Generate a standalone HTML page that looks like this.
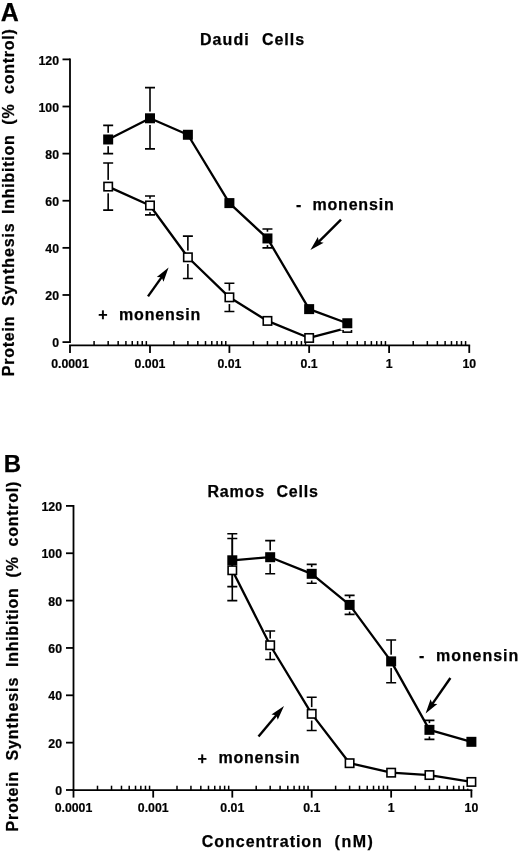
<!DOCTYPE html>
<html lang="en">
<head>
<meta charset="utf-8">
<title>Protein Synthesis Inhibition - Daudi and Ramos Cells</title>
<style>
html,body{margin:0;padding:0;background:#fff;}
body{width:520px;height:852px;overflow:hidden;}
svg{display:block;filter:blur(0.35px);}
text{font-family:"Liberation Sans",sans-serif;font-weight:bold;fill:#000;stroke:#000;stroke-width:0.25px;}
.pl{font-size:25px;}
.tt{font-size:16px;letter-spacing:0.8px;}
.tk{font-size:12.3px;stroke:#000;stroke-width:0.2px;}
.an{font-size:16px;letter-spacing:0.8px;}
.yl{font-size:16px;letter-spacing:0.75px;}
.xl{font-size:16px;letter-spacing:0.8px;}
.ax{stroke:#000;stroke-width:1.8;fill:none;}
.mt{stroke:#000;stroke-width:1.5;fill:none;}
.eb{stroke:#000;stroke-width:1.6;fill:none;}
.dl{stroke:#000;stroke-width:2.3;fill:none;stroke-linejoin:round;}
.mf{fill:#000;}
.mo{fill:#fff;stroke:#000;stroke-width:1.6;}
</style>
</head>
<body>
<svg width="520" height="852" viewBox="0 0 520 852">
<rect x="0" y="0" width="520" height="852" fill="#fff"/>
<text x="0.7" y="20.7" class="pl">A</text>
<text x="200" y="45" class="tt" style="letter-spacing:1.05px">Daudi</text><text x="261.9" y="45" class="tt" style="letter-spacing:1px">Cells</text>
<g transform="translate(14.30,376.20) rotate(-90)">
<text x="0" y="0" class="yl">Protein</text>
<text x="70.2" y="0" class="yl" style="letter-spacing:0.9px">Synthesis</text>
<text x="162.3" y="0" class="yl">Inhibition</text>
<text x="251.5" y="0" class="yl">(%</text>
<text x="282.3" y="0" class="yl">control)</text>
</g>
<line x1="70.00" y1="58.48" x2="70.00" y2="343.00" class="ax"/>
<line x1="62.50" y1="342.10" x2="70.00" y2="342.10" class="ax"/>
<text x="59.00" y="347.25" class="tk" text-anchor="end">0</text>
<line x1="62.50" y1="294.98" x2="70.00" y2="294.98" class="ax"/>
<text x="59.00" y="300.13" class="tk" text-anchor="end">20</text>
<line x1="62.50" y1="247.86" x2="70.00" y2="247.86" class="ax"/>
<text x="59.00" y="253.01" class="tk" text-anchor="end">40</text>
<line x1="62.50" y1="200.74" x2="70.00" y2="200.74" class="ax"/>
<text x="59.00" y="205.89" class="tk" text-anchor="end">60</text>
<line x1="62.50" y1="153.62" x2="70.00" y2="153.62" class="ax"/>
<text x="59.00" y="158.77" class="tk" text-anchor="end">80</text>
<line x1="62.50" y1="106.50" x2="70.00" y2="106.50" class="ax"/>
<text x="59.00" y="111.65" class="tk" text-anchor="end">100</text>
<line x1="62.50" y1="59.38" x2="70.00" y2="59.38" class="ax"/>
<text x="59.00" y="64.53" class="tk" text-anchor="end">120</text>
<line x1="69.10" y1="345.45" x2="470.15" y2="345.45" class="ax"/>
<line x1="70.00" y1="345.45" x2="70.00" y2="352.95" class="ax"/>
<text x="70.00" y="367.70" class="tk" text-anchor="middle">0.0001</text>
<line x1="94.08" y1="345.45" x2="94.08" y2="341.05" class="mt"/>
<line x1="108.17" y1="345.45" x2="108.17" y2="341.05" class="mt"/>
<line x1="118.16" y1="345.45" x2="118.16" y2="341.05" class="mt"/>
<line x1="125.92" y1="345.45" x2="125.92" y2="341.05" class="mt"/>
<line x1="132.25" y1="345.45" x2="132.25" y2="341.05" class="mt"/>
<line x1="137.61" y1="345.45" x2="137.61" y2="341.05" class="mt"/>
<line x1="142.25" y1="345.45" x2="142.25" y2="341.05" class="mt"/>
<line x1="146.34" y1="345.45" x2="146.34" y2="341.05" class="mt"/>
<line x1="150.00" y1="345.45" x2="150.00" y2="352.95" class="ax"/>
<text x="150.00" y="367.70" class="tk" text-anchor="middle">0.001</text>
<line x1="173.90" y1="345.45" x2="173.90" y2="341.05" class="mt"/>
<line x1="187.88" y1="345.45" x2="187.88" y2="341.05" class="mt"/>
<line x1="197.80" y1="345.45" x2="197.80" y2="341.05" class="mt"/>
<line x1="205.50" y1="345.45" x2="205.50" y2="341.05" class="mt"/>
<line x1="211.79" y1="345.45" x2="211.79" y2="341.05" class="mt"/>
<line x1="217.10" y1="345.45" x2="217.10" y2="341.05" class="mt"/>
<line x1="221.71" y1="345.45" x2="221.71" y2="341.05" class="mt"/>
<line x1="225.77" y1="345.45" x2="225.77" y2="341.05" class="mt"/>
<line x1="229.40" y1="345.45" x2="229.40" y2="352.95" class="ax"/>
<text x="229.40" y="367.70" class="tk" text-anchor="middle">0.01</text>
<line x1="253.41" y1="345.45" x2="253.41" y2="341.05" class="mt"/>
<line x1="267.45" y1="345.45" x2="267.45" y2="341.05" class="mt"/>
<line x1="277.41" y1="345.45" x2="277.41" y2="341.05" class="mt"/>
<line x1="285.14" y1="345.45" x2="285.14" y2="341.05" class="mt"/>
<line x1="291.46" y1="345.45" x2="291.46" y2="341.05" class="mt"/>
<line x1="296.80" y1="345.45" x2="296.80" y2="341.05" class="mt"/>
<line x1="301.42" y1="345.45" x2="301.42" y2="341.05" class="mt"/>
<line x1="305.50" y1="345.45" x2="305.50" y2="341.05" class="mt"/>
<line x1="309.15" y1="345.45" x2="309.15" y2="352.95" class="ax"/>
<text x="309.15" y="367.70" class="tk" text-anchor="middle">0.1</text>
<line x1="333.22" y1="345.45" x2="333.22" y2="341.05" class="mt"/>
<line x1="347.30" y1="345.45" x2="347.30" y2="341.05" class="mt"/>
<line x1="357.28" y1="345.45" x2="357.28" y2="341.05" class="mt"/>
<line x1="365.03" y1="345.45" x2="365.03" y2="341.05" class="mt"/>
<line x1="371.36" y1="345.45" x2="371.36" y2="341.05" class="mt"/>
<line x1="376.72" y1="345.45" x2="376.72" y2="341.05" class="mt"/>
<line x1="381.35" y1="345.45" x2="381.35" y2="341.05" class="mt"/>
<line x1="385.44" y1="345.45" x2="385.44" y2="341.05" class="mt"/>
<line x1="389.10" y1="345.45" x2="389.10" y2="352.95" class="ax"/>
<text x="389.10" y="367.70" class="tk" text-anchor="middle">1</text>
<line x1="413.23" y1="345.45" x2="413.23" y2="341.05" class="mt"/>
<line x1="427.34" y1="345.45" x2="427.34" y2="341.05" class="mt"/>
<line x1="437.36" y1="345.45" x2="437.36" y2="341.05" class="mt"/>
<line x1="445.12" y1="345.45" x2="445.12" y2="341.05" class="mt"/>
<line x1="451.47" y1="345.45" x2="451.47" y2="341.05" class="mt"/>
<line x1="456.83" y1="345.45" x2="456.83" y2="341.05" class="mt"/>
<line x1="461.48" y1="345.45" x2="461.48" y2="341.05" class="mt"/>
<line x1="465.58" y1="345.45" x2="465.58" y2="341.05" class="mt"/>
<line x1="469.25" y1="345.45" x2="469.25" y2="352.95" class="ax"/>
<text x="469.25" y="367.70" class="tk" text-anchor="middle">10</text>
<path d="M108.17 163.04V210.16M103.17 163.04h10.0M103.17 210.16h10.0" class="eb"/>
<path d="M150.00 196.03V214.88M145.00 196.03h10.0M145.00 214.88h10.0" class="eb"/>
<path d="M187.88 236.08V278.49M182.88 236.08h10.0M182.88 278.49h10.0" class="eb"/>
<path d="M229.40 283.20V311.47M224.40 283.20h10.0M224.40 311.47h10.0" class="eb"/>
<path d="M108.17 125.35V153.62M103.17 125.35h10.0M103.17 153.62h10.0" class="eb"/>
<path d="M150.00 87.65V148.91M145.00 87.65h10.0M145.00 148.91h10.0" class="eb"/>
<path d="M267.45 229.01V247.86M262.45 229.01h10.0M262.45 247.86h10.0" class="eb"/>
<rect x="101.47" y="179.90" width="13.4" height="13.4" fill="#fff"/>
<rect x="143.30" y="198.75" width="13.4" height="13.4" fill="#fff"/>
<rect x="181.18" y="250.58" width="13.4" height="13.4" fill="#fff"/>
<rect x="222.70" y="290.64" width="13.4" height="13.4" fill="#fff"/>
<rect x="260.75" y="314.20" width="13.4" height="13.4" fill="#fff"/>
<rect x="340.60" y="321.26" width="13.4" height="13.4" fill="#fff"/>
<polyline points="108.17,186.60 150.00,205.45 187.88,257.28 229.40,297.34 267.45,320.90 309.15,337.98 347.30,327.96" class="dl"/>
<rect x="103.97" y="182.40" width="8.4" height="8.4" class="mo"/>
<rect x="145.80" y="201.25" width="8.4" height="8.4" class="mo"/>
<rect x="183.68" y="253.08" width="8.4" height="8.4" class="mo"/>
<rect x="225.20" y="293.14" width="8.4" height="8.4" class="mo"/>
<rect x="263.25" y="316.70" width="8.4" height="8.4" class="mo"/>
<rect x="304.95" y="333.78" width="8.4" height="8.4" class="mo"/>
<rect x="343.10" y="323.76" width="8.4" height="8.4" class="mo"/>
<rect x="101.47" y="132.78" width="13.4" height="13.4" fill="#fff"/>
<rect x="143.30" y="111.58" width="13.4" height="13.4" fill="#fff"/>
<rect x="181.18" y="128.07" width="13.4" height="13.4" fill="#fff"/>
<rect x="222.70" y="196.40" width="13.4" height="13.4" fill="#fff"/>
<rect x="260.75" y="231.74" width="13.4" height="13.4" fill="#fff"/>
<rect x="302.45" y="302.42" width="13.4" height="13.4" fill="#fff"/>
<rect x="340.60" y="316.55" width="13.4" height="13.4" fill="#fff"/>
<polyline points="108.17,139.48 150.00,118.28 187.88,134.77 229.40,203.10 267.45,238.44 309.15,309.12 347.30,323.25" class="dl"/>
<rect x="103.17" y="134.48" width="10.0" height="10.0" class="mf"/>
<rect x="145.00" y="113.28" width="10.0" height="10.0" class="mf"/>
<rect x="182.88" y="129.77" width="10.0" height="10.0" class="mf"/>
<rect x="224.40" y="198.10" width="10.0" height="10.0" class="mf"/>
<rect x="262.45" y="233.44" width="10.0" height="10.0" class="mf"/>
<rect x="304.15" y="304.12" width="10.0" height="10.0" class="mf"/>
<rect x="342.30" y="318.25" width="10.0" height="10.0" class="mf"/>
<text x="296" y="209.5" class="an">-</text><text x="312.5" y="209.5" class="an">monensin</text>
<line x1="341.00" y1="219.70" x2="318.18" y2="242.37" stroke="#000" stroke-width="2.4"/>
<polygon points="310.40,250.10 317.87,236.90 318.89,241.66 323.65,242.72" fill="#000"/>
<text x="98.3" y="320.3" class="an">+</text><text x="119.1" y="319.5" class="an">monensin</text>
<line x1="148.00" y1="296.40" x2="162.25" y2="276.34" stroke="#000" stroke-width="2.4"/>
<polygon points="168.60,267.40 163.49,281.68 161.67,277.16 156.80,276.93" fill="#000"/>
<text x="3.7" y="471.6" class="pl" style="font-size:24px">B</text>
<text x="207.5" y="496.6" class="tt">Ramos</text><text x="276.5" y="496.6" class="tt">Cells</text>
<g transform="translate(17.90,831.40) rotate(-90)">
<text x="0" y="0" class="yl">Protein</text>
<text x="70.9" y="0" class="yl" style="letter-spacing:0.9px">Synthesis</text>
<text x="164.5" y="0" class="yl">Inhibition</text>
<text x="254.0" y="0" class="yl">(%</text>
<text x="284.95" y="0" class="yl">control)</text>
</g>
<line x1="73.50" y1="505.00" x2="73.50" y2="790.90" class="ax"/>
<line x1="66.00" y1="790.00" x2="73.50" y2="790.00" class="ax"/>
<text x="62.00" y="795.15" class="tk" text-anchor="end">0</text>
<line x1="66.00" y1="742.65" x2="73.50" y2="742.65" class="ax"/>
<text x="62.00" y="747.80" class="tk" text-anchor="end">20</text>
<line x1="66.00" y1="695.30" x2="73.50" y2="695.30" class="ax"/>
<text x="62.00" y="700.45" class="tk" text-anchor="end">40</text>
<line x1="66.00" y1="647.95" x2="73.50" y2="647.95" class="ax"/>
<text x="62.00" y="653.10" class="tk" text-anchor="end">60</text>
<line x1="66.00" y1="600.60" x2="73.50" y2="600.60" class="ax"/>
<text x="62.00" y="605.75" class="tk" text-anchor="end">80</text>
<line x1="66.00" y1="553.25" x2="73.50" y2="553.25" class="ax"/>
<text x="62.00" y="558.40" class="tk" text-anchor="end">100</text>
<line x1="66.00" y1="505.90" x2="73.50" y2="505.90" class="ax"/>
<text x="62.00" y="511.05" class="tk" text-anchor="end">120</text>
<line x1="72.60" y1="790.10" x2="472.30" y2="790.10" class="ax"/>
<line x1="73.50" y1="790.10" x2="73.50" y2="797.60" class="ax"/>
<text x="73.50" y="812.35" class="tk" text-anchor="middle">0.0001</text>
<line x1="97.49" y1="790.10" x2="97.49" y2="785.70" class="mt"/>
<line x1="111.53" y1="790.10" x2="111.53" y2="785.70" class="mt"/>
<line x1="121.48" y1="790.10" x2="121.48" y2="785.70" class="mt"/>
<line x1="129.21" y1="790.10" x2="129.21" y2="785.70" class="mt"/>
<line x1="135.52" y1="790.10" x2="135.52" y2="785.70" class="mt"/>
<line x1="140.85" y1="790.10" x2="140.85" y2="785.70" class="mt"/>
<line x1="145.48" y1="790.10" x2="145.48" y2="785.70" class="mt"/>
<line x1="149.55" y1="790.10" x2="149.55" y2="785.70" class="mt"/>
<line x1="153.20" y1="790.10" x2="153.20" y2="797.60" class="ax"/>
<text x="153.20" y="812.35" class="tk" text-anchor="middle">0.001</text>
<line x1="177.01" y1="790.10" x2="177.01" y2="785.70" class="mt"/>
<line x1="190.94" y1="790.10" x2="190.94" y2="785.70" class="mt"/>
<line x1="200.82" y1="790.10" x2="200.82" y2="785.70" class="mt"/>
<line x1="208.49" y1="790.10" x2="208.49" y2="785.70" class="mt"/>
<line x1="214.75" y1="790.10" x2="214.75" y2="785.70" class="mt"/>
<line x1="220.05" y1="790.10" x2="220.05" y2="785.70" class="mt"/>
<line x1="224.63" y1="790.10" x2="224.63" y2="785.70" class="mt"/>
<line x1="228.68" y1="790.10" x2="228.68" y2="785.70" class="mt"/>
<line x1="232.30" y1="790.10" x2="232.30" y2="797.60" class="ax"/>
<text x="232.30" y="812.35" class="tk" text-anchor="middle">0.01</text>
<line x1="256.20" y1="790.10" x2="256.20" y2="785.70" class="mt"/>
<line x1="270.18" y1="790.10" x2="270.18" y2="785.70" class="mt"/>
<line x1="280.10" y1="790.10" x2="280.10" y2="785.70" class="mt"/>
<line x1="287.80" y1="790.10" x2="287.80" y2="785.70" class="mt"/>
<line x1="294.09" y1="790.10" x2="294.09" y2="785.70" class="mt"/>
<line x1="299.40" y1="790.10" x2="299.40" y2="785.70" class="mt"/>
<line x1="304.01" y1="790.10" x2="304.01" y2="785.70" class="mt"/>
<line x1="308.07" y1="790.10" x2="308.07" y2="785.70" class="mt"/>
<line x1="311.70" y1="790.10" x2="311.70" y2="797.60" class="ax"/>
<text x="311.70" y="812.35" class="tk" text-anchor="middle">0.1</text>
<line x1="335.62" y1="790.10" x2="335.62" y2="785.70" class="mt"/>
<line x1="349.61" y1="790.10" x2="349.61" y2="785.70" class="mt"/>
<line x1="359.53" y1="790.10" x2="359.53" y2="785.70" class="mt"/>
<line x1="367.23" y1="790.10" x2="367.23" y2="785.70" class="mt"/>
<line x1="373.52" y1="790.10" x2="373.52" y2="785.70" class="mt"/>
<line x1="378.84" y1="790.10" x2="378.84" y2="785.70" class="mt"/>
<line x1="383.45" y1="790.10" x2="383.45" y2="785.70" class="mt"/>
<line x1="387.51" y1="790.10" x2="387.51" y2="785.70" class="mt"/>
<line x1="391.15" y1="790.10" x2="391.15" y2="797.60" class="ax"/>
<text x="391.15" y="812.35" class="tk" text-anchor="middle">1</text>
<line x1="415.31" y1="790.10" x2="415.31" y2="785.70" class="mt"/>
<line x1="429.44" y1="790.10" x2="429.44" y2="785.70" class="mt"/>
<line x1="439.47" y1="790.10" x2="439.47" y2="785.70" class="mt"/>
<line x1="447.24" y1="790.10" x2="447.24" y2="785.70" class="mt"/>
<line x1="453.60" y1="790.10" x2="453.60" y2="785.70" class="mt"/>
<line x1="458.97" y1="790.10" x2="458.97" y2="785.70" class="mt"/>
<line x1="463.62" y1="790.10" x2="463.62" y2="785.70" class="mt"/>
<line x1="467.73" y1="790.10" x2="467.73" y2="785.70" class="mt"/>
<line x1="471.40" y1="790.10" x2="471.40" y2="797.60" class="ax"/>
<text x="471.40" y="812.35" class="tk" text-anchor="middle">10</text>
<path d="M232.30 538.46V600.63M227.30 538.46h10.0M227.30 600.63h10.0" class="eb"/>
<path d="M270.18 631.01V659.49M265.18 631.01h10.0M265.18 659.49h10.0" class="eb"/>
<path d="M311.70 697.22V730.44M306.70 697.22h10.0M306.70 730.44h10.0" class="eb"/>
<path d="M232.30 533.72V586.63M227.30 533.72h10.0M227.30 586.63h10.0" class="eb"/>
<path d="M270.18 540.60V573.82M265.18 540.60h10.0M265.18 573.82h10.0" class="eb"/>
<path d="M311.70 564.33V583.31M306.70 564.33h10.0M306.70 583.31h10.0" class="eb"/>
<path d="M349.61 595.41V614.40M344.61 595.41h10.0M344.61 614.40h10.0" class="eb"/>
<path d="M391.15 640.03V682.74M386.15 640.03h10.0M386.15 682.74h10.0" class="eb"/>
<path d="M429.44 720.35V739.34M424.44 720.35h10.0M424.44 739.34h10.0" class="eb"/>
<rect x="263.48" y="638.55" width="13.4" height="13.4" fill="#fff"/>
<rect x="305.00" y="707.13" width="13.4" height="13.4" fill="#fff"/>
<rect x="342.91" y="756.49" width="13.4" height="13.4" fill="#fff"/>
<rect x="384.45" y="765.98" width="13.4" height="13.4" fill="#fff"/>
<rect x="422.74" y="768.35" width="13.4" height="13.4" fill="#fff"/>
<rect x="464.70" y="775.23" width="13.4" height="13.4" fill="#fff"/>
<polyline points="232.30,570.26 270.18,645.25 311.70,713.83 349.61,763.19 391.15,772.68 429.44,775.05 471.40,781.93" class="dl"/>
<rect x="228.10" y="566.06" width="8.4" height="8.4" class="mo"/>
<rect x="265.98" y="641.05" width="8.4" height="8.4" class="mo"/>
<rect x="307.50" y="709.63" width="8.4" height="8.4" class="mo"/>
<rect x="345.41" y="758.99" width="8.4" height="8.4" class="mo"/>
<rect x="386.95" y="768.48" width="8.4" height="8.4" class="mo"/>
<rect x="425.24" y="770.85" width="8.4" height="8.4" class="mo"/>
<rect x="467.20" y="777.73" width="8.4" height="8.4" class="mo"/>
<rect x="263.48" y="550.51" width="13.4" height="13.4" fill="#fff"/>
<rect x="305.00" y="567.12" width="13.4" height="13.4" fill="#fff"/>
<rect x="342.91" y="598.21" width="13.4" height="13.4" fill="#fff"/>
<rect x="384.45" y="654.68" width="13.4" height="13.4" fill="#fff"/>
<rect x="422.74" y="723.14" width="13.4" height="13.4" fill="#fff"/>
<rect x="464.70" y="735.13" width="13.4" height="13.4" fill="#fff"/>
<polyline points="232.30,560.29 270.18,557.21 311.70,573.82 349.61,604.91 391.15,661.38 429.44,729.84 471.40,741.83" class="dl"/>
<rect x="227.30" y="555.29" width="10.0" height="10.0" class="mf"/>
<rect x="265.18" y="552.21" width="10.0" height="10.0" class="mf"/>
<rect x="306.70" y="568.82" width="10.0" height="10.0" class="mf"/>
<rect x="344.61" y="599.91" width="10.0" height="10.0" class="mf"/>
<rect x="386.15" y="656.38" width="10.0" height="10.0" class="mf"/>
<rect x="424.44" y="724.84" width="10.0" height="10.0" class="mf"/>
<rect x="466.40" y="736.83" width="10.0" height="10.0" class="mf"/>
<text x="419" y="661.1" class="an">-</text><text x="436" y="660.5" class="an" style="letter-spacing:0.95px">monensin</text>
<line x1="450.40" y1="678.00" x2="431.87" y2="704.60" stroke="#000" stroke-width="2.4"/>
<polygon points="425.60,713.60 430.58,699.28 432.44,703.78 437.31,703.96" fill="#000"/>
<text x="197.6" y="763.9" class="an">+</text><text x="218.4" y="763" class="an">monensin</text>
<line x1="258.50" y1="736.40" x2="276.95" y2="714.41" stroke="#000" stroke-width="2.4"/>
<polygon points="284.00,706.00 277.76,719.82 276.31,715.17 271.48,714.55" fill="#000"/>
<text x="201.8" y="847" class="xl" style="letter-spacing:0.97px">Concentration</text><text x="334.6" y="847" class="xl" style="letter-spacing:1.5px">(nM)</text>
</svg>
</body>
</html>
